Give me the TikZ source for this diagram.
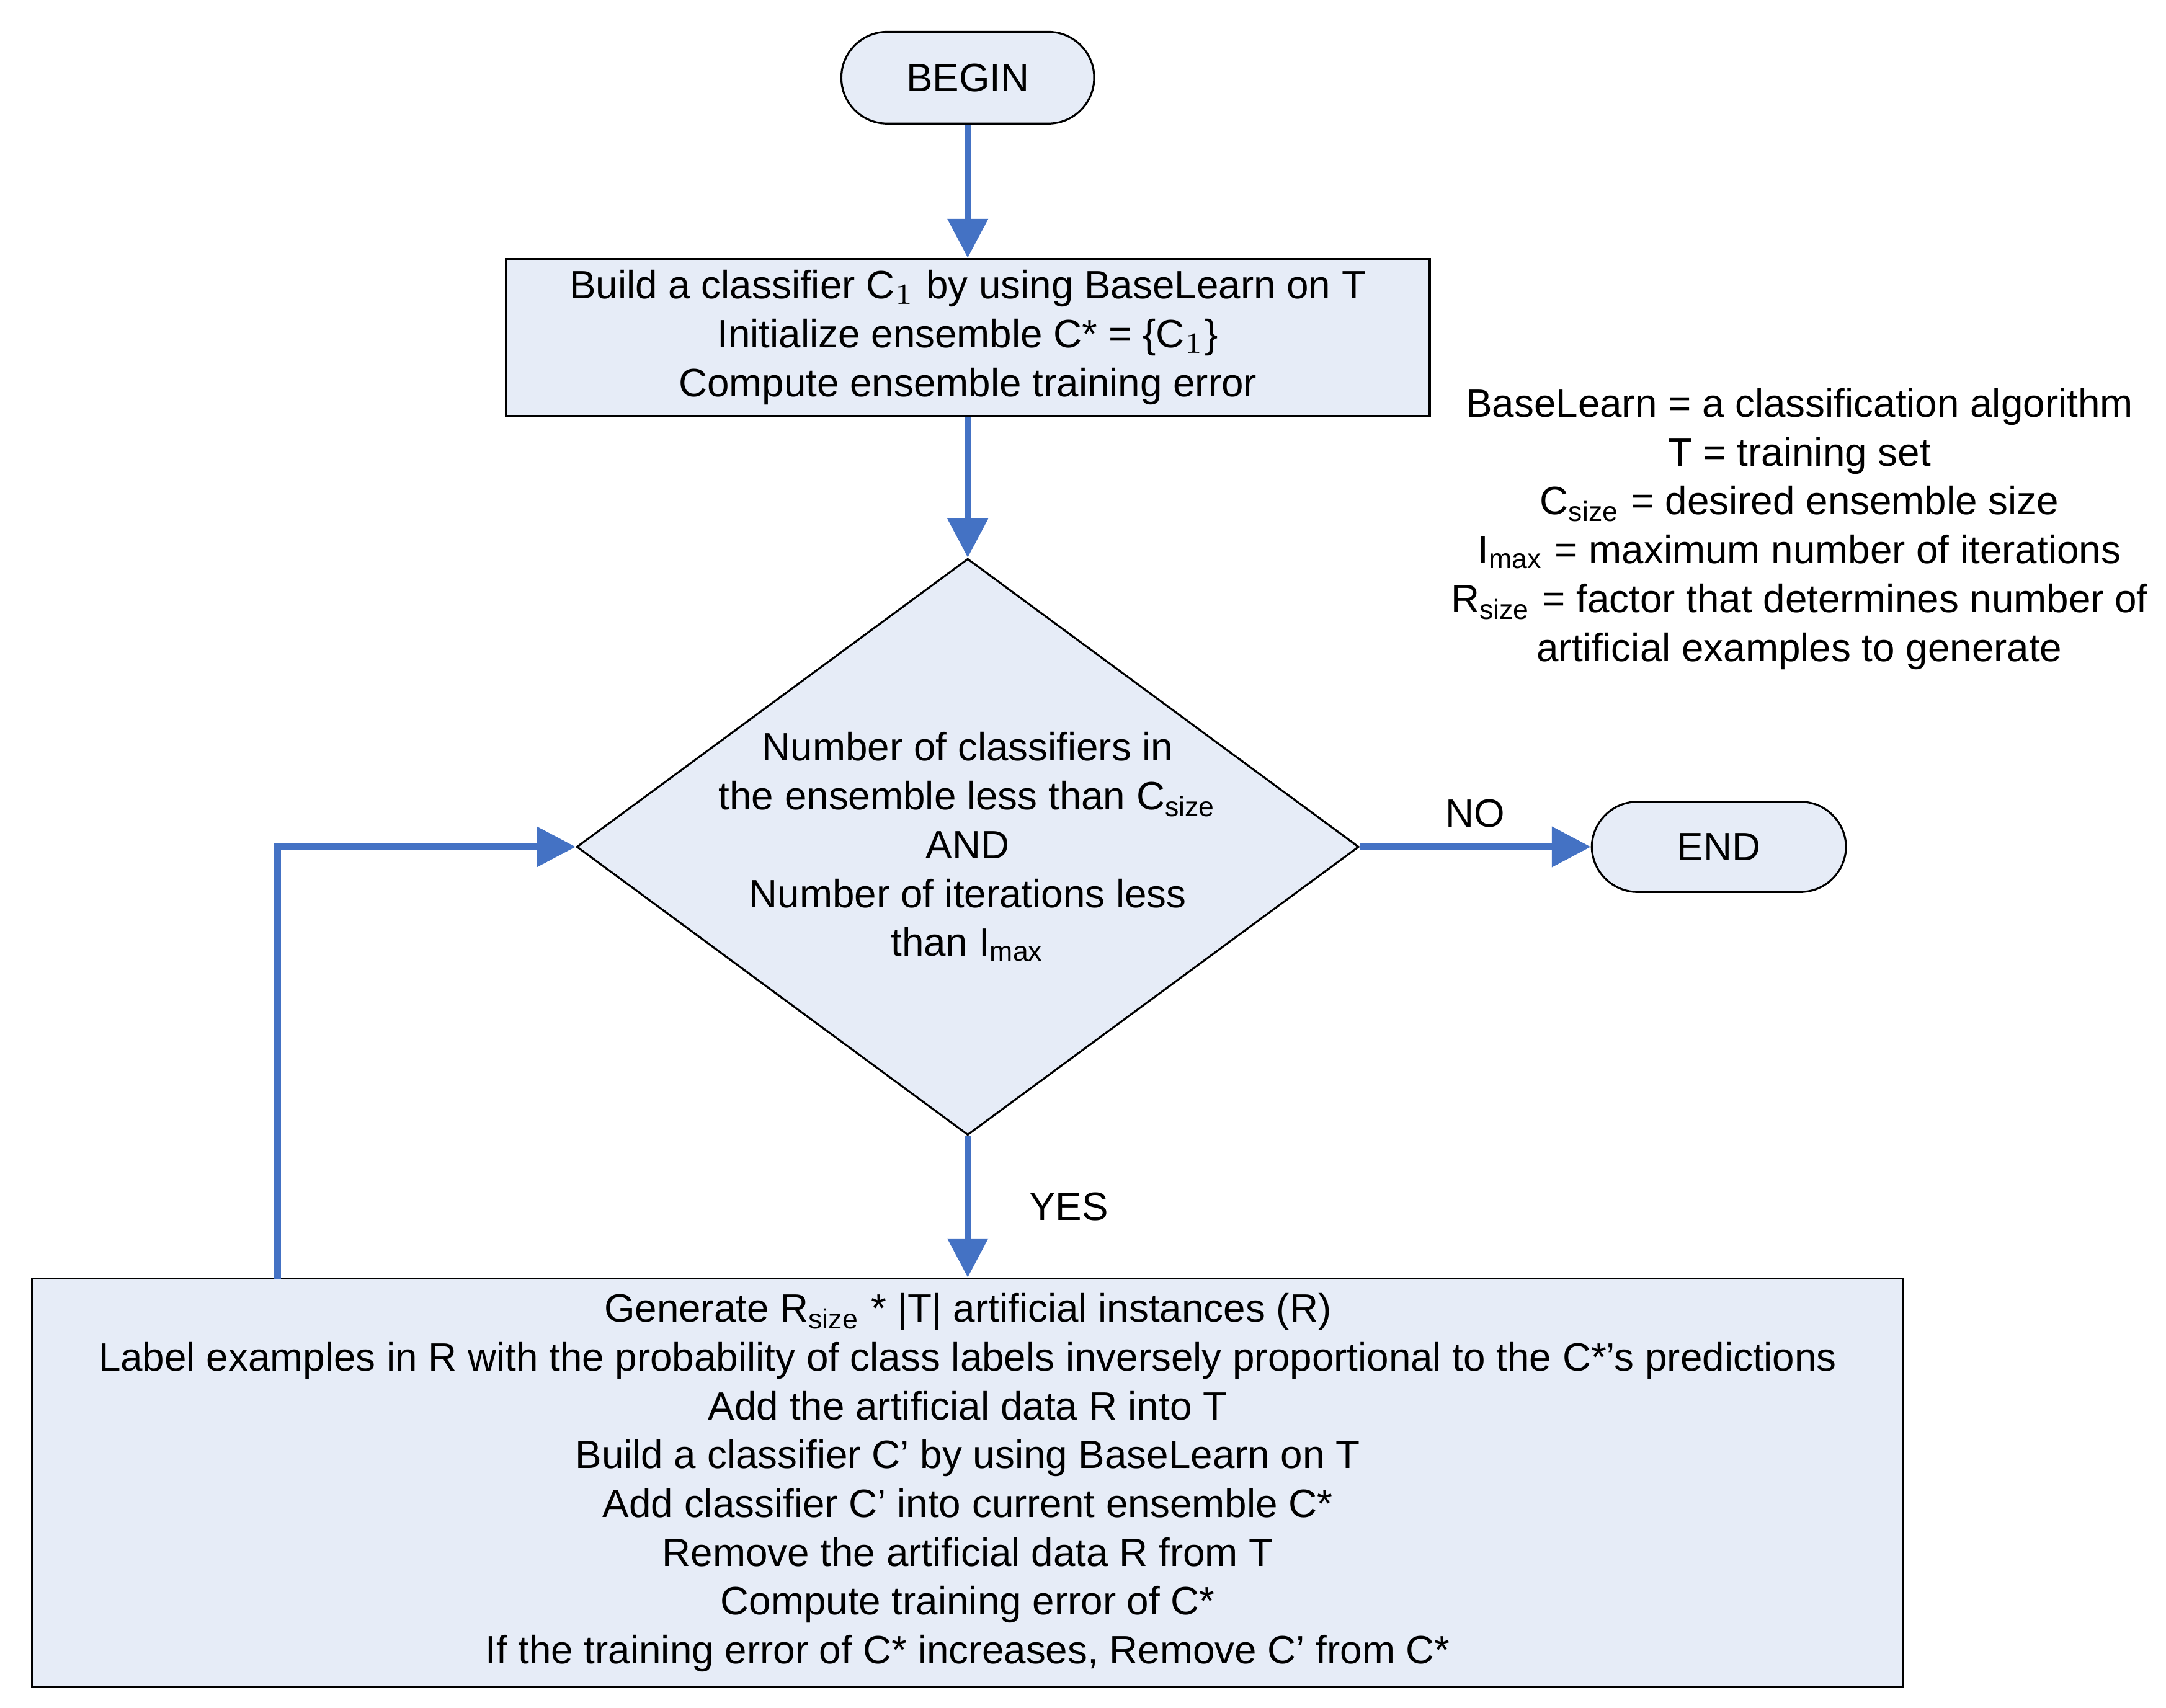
\documentclass[tikz,border=0pt]{standalone}
\usepackage{fontspec}
\setmainfont{Liberation Sans}
\usetikzlibrary{shapes.geometric, arrows.meta}
\definecolor{boxfill}{RGB}{230,236,247}
\definecolor{flow}{RGB}{68,114,196}
\tikzstyle{box} = [rectangle, draw=black, fill=boxfill, align=center, inner sep=0pt]
\tikzstyle{term} = [rectangle, rounded corners=0.33cm, draw=black, fill=boxfill, inner sep=0pt]
\tikzstyle{flowline} = [draw=flow, line width=1.4pt, -{Triangle[length=8pt,width=8pt]}]

\begin{document}
\begin{tikzpicture}[x=0.01cm, y=-0.01cm, font=\fontsize{8.1}{10}\selectfont]
        \useasboundingbox (0,0) rectangle (1560,1230);
        \node[term, minimum width=1.82cm, minimum height=0.66cm] (begin) at (697,56) {BEGIN};
        \node[box, minimum width=6.65cm, minimum height=1.13cm] (init) at (697,243) {Build a classifier C$_1$ by using BaseLearn on T\\Initialize ensemble C* = \{C$_1$\}\\Compute ensemble training error};
        \node[diamond, draw=black, fill=boxfill, minimum width=5.63cm, minimum height=4.15cm, inner sep=0pt, aspect=1.36] (test) at (697,610) {};
        \node[align=center] at (697,610) {Number of classifiers in\\the ensemble less than C$_{\mathrm{size}}$\\AND\\Number of iterations less\\than I$_{\mathrm{max}}$};
        \node[term, minimum width=1.83cm, minimum height=0.65cm] (end) at (1238,610) {END};
        \node[box, minimum width=13.47cm, minimum height=2.94cm] (loop) at (697,1068) {Generate R$_{\mathrm{size}}$ * |T| artificial instances (R)\\Label examples in R with the probability of class labels inversely proportional to the C*’s predictions\\Add the artificial data R into T\\Build a classifier C’ by using BaseLearn on T\\Add classifier C’ into current ensemble C*\\Remove the artificial data R from T\\Compute training error of C*\\If the training error of C* increases, Remove C’ from C*};
        \node[align=center] (legend) at (1296,381) {BaseLearn = a classification algorithm\\T = training set\\C$_{\mathrm{size}}$ = desired ensemble size\\I$_{\mathrm{max}}$ = maximum number of iterations\\R$_{\mathrm{size}}$ = factor that determines number of\\artificial examples to generate};
        \coordinate (back) at (200,921);

        \draw [flowline] (begin) -- (init);
        \draw [flowline] (init) -- (test);
        \draw [flowline] (test) -- node[above]{NO} (end);
        \draw [flowline] (test) -- node[right, xshift=0.3cm]{YES} (loop);
        \draw [flowline] (back) |- (test.west);
    \end{tikzpicture}
\end{document}
